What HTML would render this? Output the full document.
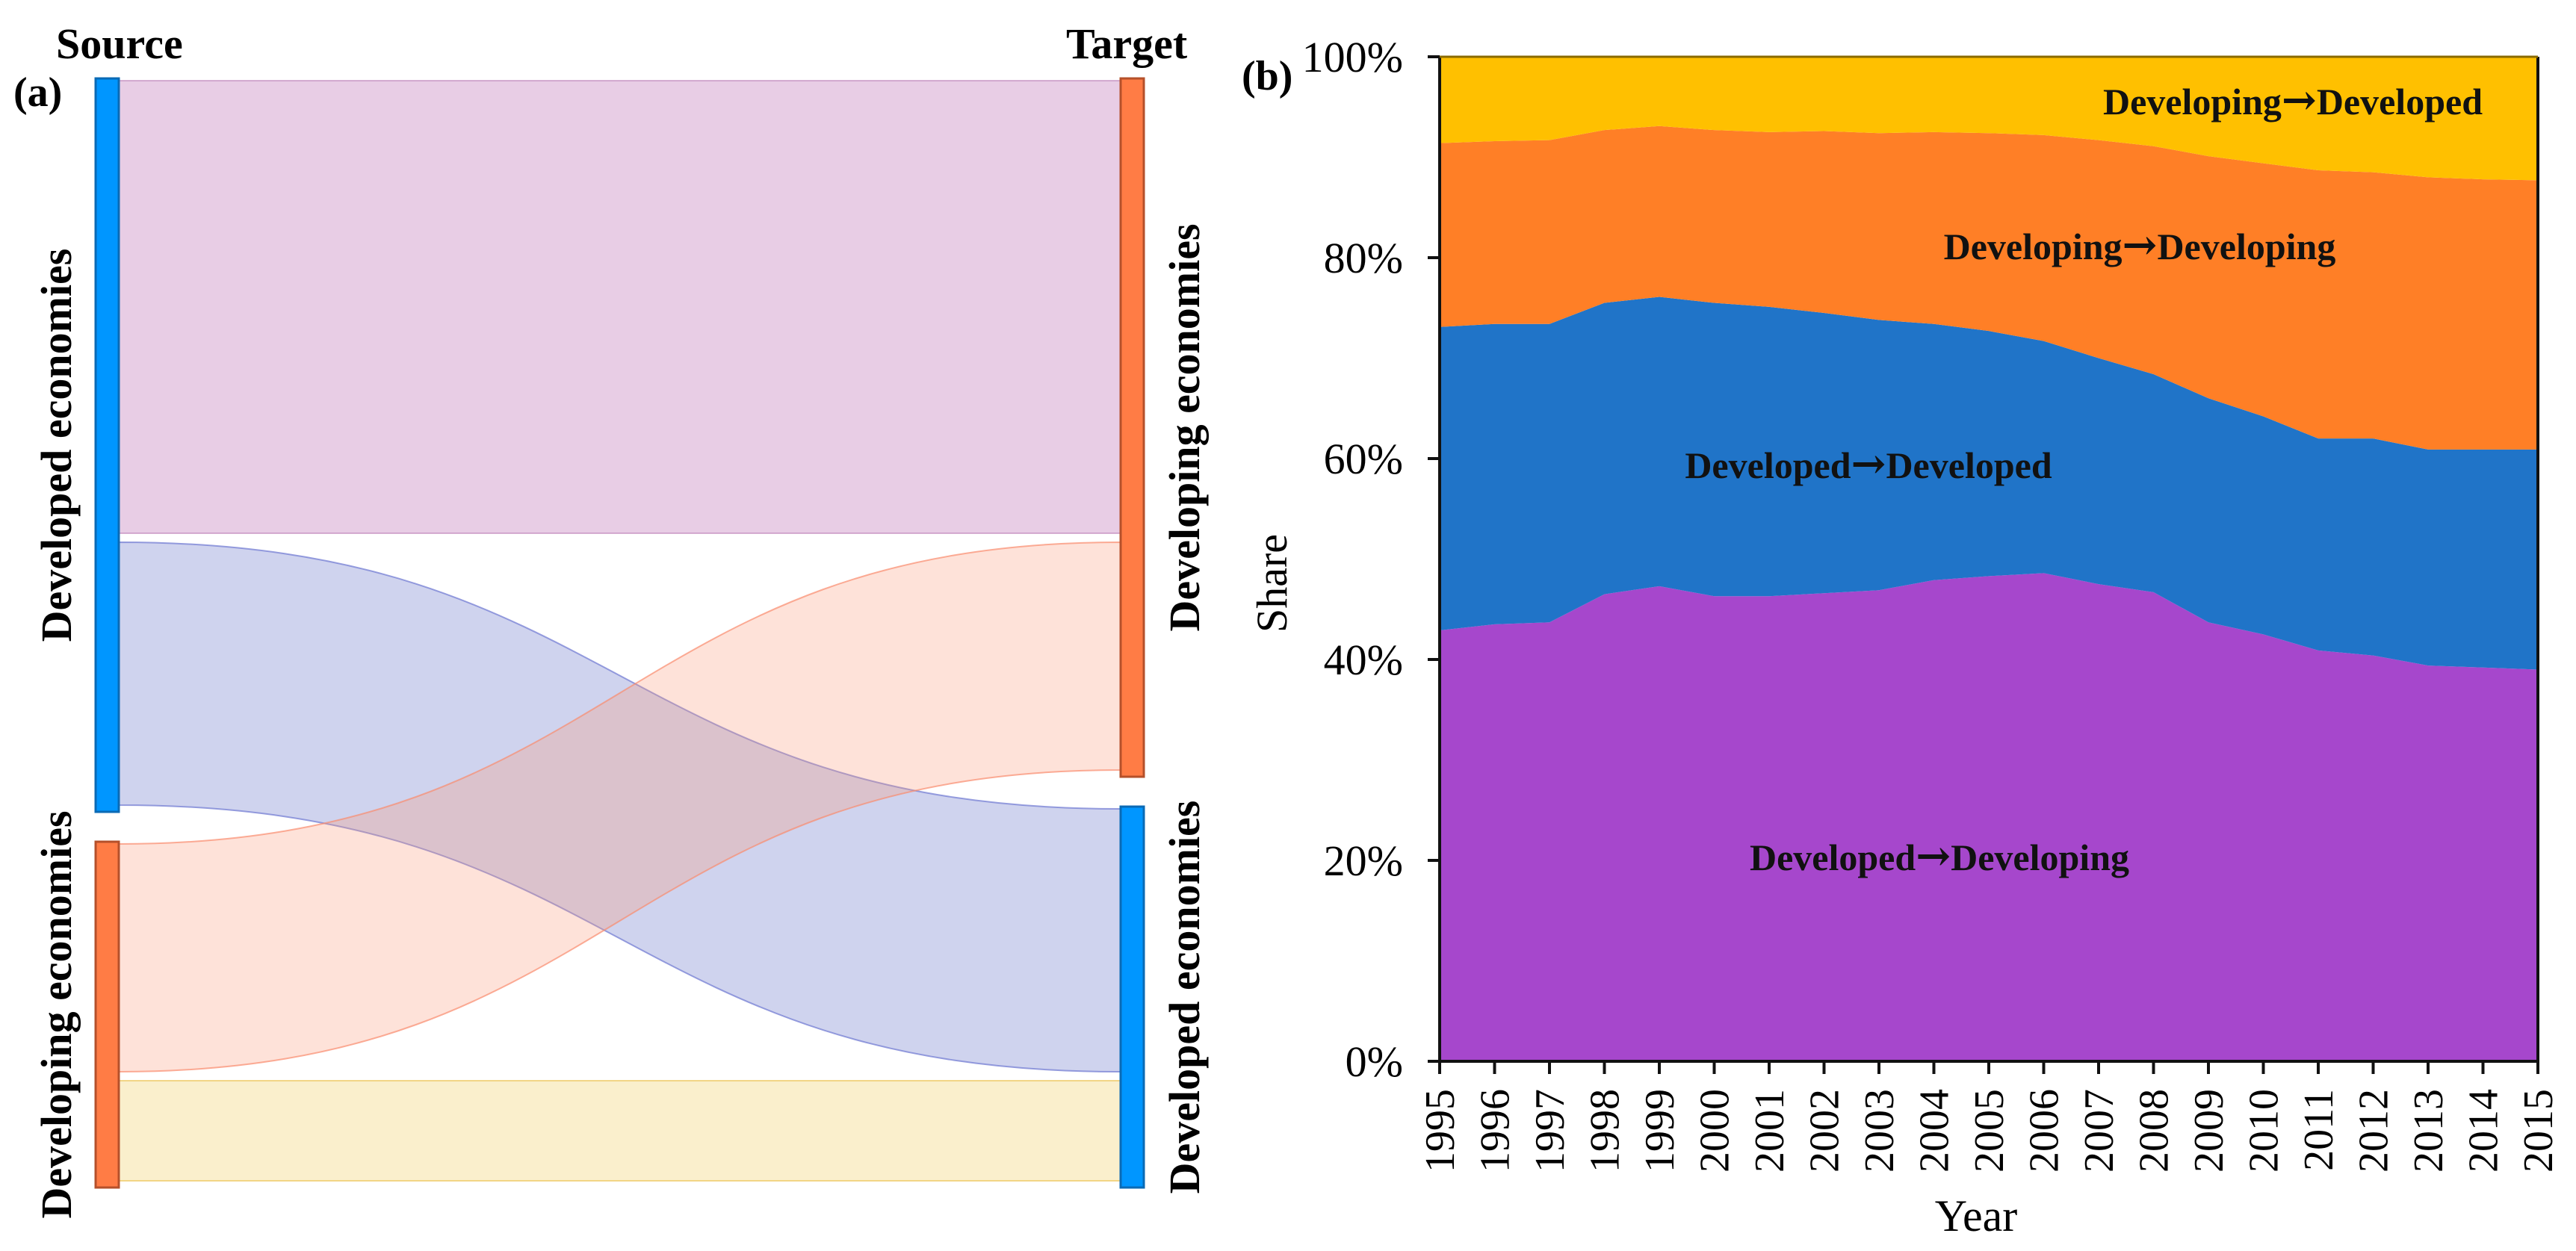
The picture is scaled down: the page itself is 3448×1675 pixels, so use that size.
<!DOCTYPE html>
<html><head><meta charset="utf-8"><style>
html,body{margin:0;padding:0;background:#fff}
svg{display:block;font-family:"Liberation Serif",serif}
</style></head><body>
<svg id="fig" width="3448" height="1675" viewBox="0 0 3448 1675" xmlns="http://www.w3.org/2000/svg">
<g id="sankey"></g>
<g id="area"></g>
</svg>
<script>
// ---------- Panel (a): Sankey data ----------
const sankeySources = ["Developed economies", "Developing economies"];
const sankeyTargets = ["Developing economies", "Developed economies"];
const flowSource = [0, 0, 1, 1];
const flowTarget = [0, 1, 0, 1];
const flowValues = [606, 352, 305, 134];
const flowColors = ["rgba(206,150,200,0.48)", "rgba(130,140,210,0.38)", "rgba(252,150,120,0.28)", "rgba(242,210,110,0.35)"];
const flowStrokes = ["rgba(190,130,185,0.6)", "rgba(110,120,210,0.7)", "rgba(250,140,110,0.7)", "rgba(240,205,110,0.8)"];
const sourceColors = ["#0096FF", "#FF7C45"];
const targetColors = ["#FF7C45", "#0096FF"];

// ---------- Panel (b): stacked area data ----------
const years = [1995,1996,1997,1998,1999,2000,2001,2002,2003,2004,2005,2006,2007,2008,2009,2010,2011,2012,2013,2014,2015];
const devToDeving = [42.9,43.5,43.7,46.5,47.3,46.3,46.3,46.6,46.9,47.9,48.3,48.6,47.5,46.7,43.7,42.5,40.9,40.4,39.4,39.2,39.0];
const devToDev = [30.2,29.9,29.7,29.0,28.8,29.2,28.8,27.9,26.9,25.5,24.4,23.1,22.5,21.7,22.3,21.7,21.1,21.6,21.5,21.7,21.9];
const devingToDeving = [18.3,18.2,18.3,17.2,17.0,17.2,17.4,18.1,18.6,19.1,19.7,20.5,21.7,22.7,24.1,25.2,26.7,26.5,27.1,26.9,26.8];
const devingToDev = [8.6,8.4,8.3,7.3,6.9,7.3,7.5,7.4,7.6,7.5,7.6,7.8,8.3,8.9,9.9,10.6,11.3,11.5,12.0,12.2,12.3];
const yTicks = [0,20,40,60,80,100];
const seriesFrom = ["Developed","Developed","Developing","Developing"];
const seriesTo = ["Developing","Developed","Developing","Developed"];

const NS = "http://www.w3.org/2000/svg";
function mk(tag, attrs, parent){const e=document.createElementNS(NS,tag);for(const k in attrs)e.setAttribute(k,attrs[k]);parent.appendChild(e);return e;}

// ---- Sankey layout ----
const sk = document.getElementById('sankey');
const xL0=128, xL1=159, xR0=1500, xR1=1531;
const nodeTop=105, padIn=3, flowGap=12, padEnd=9, nodeGap=40;
function layout(nodeCount, key){
  const nodes=[]; let y=nodeTop;
  for(let n=0;n<nodeCount;n++){
    const idx=[]; for(let f=0;f<flowValues.length;f++) if((key==='s'?flowSource[f]:flowTarget[f])===n) idx.push(f);
    const top=y; let cy=top+padIn; const pos={};
    idx.forEach((f,i)=>{pos[f]=cy; cy+=flowValues[f]; if(i<idx.length-1) cy+=flowGap;});
    const bot=cy+padEnd; nodes.push({top,bot,pos}); y=bot+nodeGap;
  }
  return nodes;
}
const sNodes=layout(sankeySources.length,'s');
const tNodes=layout(sankeyTargets.length,'t');
for(let f=0;f<flowValues.length;f++){
  const y0=sNodes[flowSource[f]].pos[f], y1=tNodes[flowTarget[f]].pos[f], h=flowValues[f];
  const xm=(xL1+xR0)/2;
  const d=`M${xL1},${y0} C${xm},${y0} ${xm},${y1} ${xR0},${y1} L${xR0},${y1+h} C${xm},${y1+h} ${xm},${y0+h} ${xL1},${y0+h} Z`;
  const p=mk('path',{d,fill:flowColors[f],stroke:flowStrokes[f],'stroke-width':2},sk);
  
  
}
sNodes.forEach((n,i)=>{
  const r=mk('rect',{x:xL0,y:n.top,width:xL1-xL0,height:n.bot-n.top,fill:sourceColors[i],stroke:i?'#B5502A':'#0A6AB5','stroke-width':3},sk);
  
  
  const cy=(n.top+n.bot)/2, cx=75;
  const t=mk('text',{x:0,y:0,transform:`translate(${cx+20},${cy}) rotate(-90)`,'text-anchor':'middle','font-size':58,'font-weight':'bold'},sk);
  t.textContent=sankeySources[i];
  
  
});
tNodes.forEach((n,i)=>{
  const r=mk('rect',{x:xR0,y:n.top,width:xR1-xR0,height:n.bot-n.top,fill:targetColors[i],stroke:i?'#0A6AB5':'#B5502A','stroke-width':3},sk);
  
  
  const cy=(n.top+n.bot)/2, cx=1585;
  const t=mk('text',{x:0,y:0,transform:`translate(${cx+20},${cy}) rotate(-90)`,'text-anchor':'middle','font-size':58,'font-weight':'bold'},sk);
  t.textContent=sankeyTargets[i];
  
  
});
{
  let t=mk('text',{x:75,y:78,'font-size':58,'font-weight':'bold'},sk); t.textContent='Source';
   
  t=mk('text',{x:1427,y:78,'font-size':58,'font-weight':'bold'},sk); t.textContent='Target';
   
  t=mk('text',{x:18,y:142,'font-size':56,'font-weight':'bold'},sk); t.textContent='(a)';
   
}

// ---- Area chart ----
const ar=document.getElementById('area');
const X0=1927, X1=3397, Y0=76, Y1=1421;
const xS=i=>X0+(X1-X0)*i/(years.length-1);
const yS=v=>Y1-(Y1-Y0)*v/100;
const series=[devToDeving,devToDev,devingToDeving,devingToDev];
const colors=["#A647CC","#2074C8","#FF7F26","#FFC000"];
const names=["area-developed-to-developing","area-developed-to-developed","area-developing-to-developing","area-developing-to-developed"];
let base=years.map(()=>0);
series.forEach((s,k)=>{
  const top=base.map((b,i)=>k===series.length-1?100:b+s[i]);
  let d='M'+years.map((y,i)=>`${xS(i)},${yS(top[i])}`).join(' L');
  for(let i=years.length-1;i>=0;i--) d+=` L${xS(i)},${yS(base[i])}`;
  d+=' Z';
  const p=mk('path',{d,fill:colors[k]},ar);
  
  
  base=top;
});
{
  const l=mk('path',{d:`M${X0},${Y0} L${X0},${Y1} L${X1},${Y1} L${X1},${Y0}`,fill:'none',stroke:'#111','stroke-width':4},ar);
   
  const tl=mk('line',{x1:X0,y1:Y0,x2:X1,y2:Y0,stroke:'#8a6a00','stroke-width':3},ar);
   
}
yTicks.forEach(v=>{
  const y=yS(v);
  const tk=mk('line',{x1:X0-16,y1:y,x2:X0,y2:y,stroke:'#111','stroke-width':4},ar);
   
  const t=mk('text',{x:1878,y:y+20,'text-anchor':'end','font-size':58},ar);
  t.textContent=v+'%';
   
});
years.forEach((yr,i)=>{
  const x=xS(i);
  const tk=mk('line',{x1:x,y1:Y1,x2:x,y2:Y1+17,stroke:'#111','stroke-width':4},ar);
   
  const t=mk('text',{x:0,y:0,transform:`translate(${x+19},${1458}) rotate(-90)`,'text-anchor':'end','font-size':56},ar);
  t.textContent=yr;
   
});
{
  let t=mk('text',{x:2645,y:1648,'text-anchor':'middle','font-size':60},ar); t.textContent='Year';
   
  t=mk('text',{x:0,y:0,transform:'translate(1722,781) rotate(-90)','text-anchor':'middle','font-size':58},ar); t.textContent='Share';
   
  t=mk('text',{x:1662,y:120,'font-size':56,'font-weight':'bold'},ar); t.textContent='(b)';
   
  const lab=[[2596,1165],[2501,640],[2864,347],[3069,153]];
  const ln=["label-developed-to-developing","label-developed-to-developed","label-developing-to-developing","label-developing-to-developed"];
  lab.forEach((p,k)=>{
    const tt=mk('text',{x:p[0],y:p[1],'text-anchor':'middle','font-size':50,'font-weight':'bold',fill:'#111'},ar);
    const a=document.createElementNS(NS,'tspan'); a.textContent=seriesFrom[k]; tt.appendChild(a);
    const b=document.createElementNS(NS,'tspan'); b.setAttribute('font-family','"DejaVu Serif", serif'); b.setAttribute('font-size','56'); b.textContent='\u2192'; tt.appendChild(b);
    const c=document.createElementNS(NS,'tspan'); c.textContent=seriesTo[k]; tt.appendChild(c);
     
  });
}
</script>
</body></html>
